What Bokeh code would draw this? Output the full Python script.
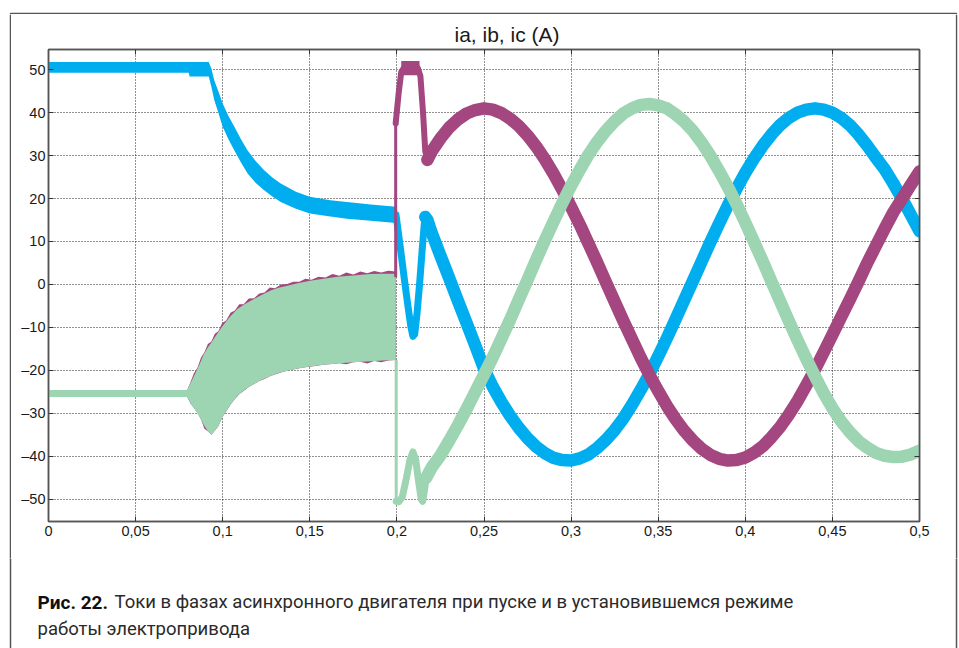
from bokeh.plotting import figure
from bokeh.layouts import column, row
from bokeh.models import Range1d, FixedTicker, LinearAxis, Label
from bokeh.embed import file_html
from bokeh.resources import INLINE

BLUE = "#00AEEF"
PURPLE = "#A4467F"
GREEN = "#9DD4B1"
FRAME = "#555555"

# ---------------- data ----------------
x_ticks = [0.0, 0.05, 0.1, 0.15, 0.2, 0.25, 0.3, 0.35, 0.4, 0.45, 0.5]
x_labels = ["0", "0,05", "0,1", "0,15", "0,2", "0,25", "0,3", "0,35", "0,4", "0,45", "0,5"]
y_ticks = [-50, -40, -30, -20, -10, 0, 10, 20, 30, 40, 50]
y_labels = ["\u201350", "\u201340", "\u201330", "\u201320", "\u201310", "0", "10", "20", "30", "40", "50"]

# ia before switching (ripple band)
ta_pre = [0.0, 0.0805, 0.0810, 0.0920, 0.0935, 0.0952, 0.0975, 0.1000, 0.1033, 0.1067,
          0.1105, 0.1143, 0.1190, 0.1238, 0.1285, 0.1333, 0.1420, 0.1500, 0.1618, 0.1713,
          0.1850, 0.1995]
ia_pre_hi = [51.8, 51.8, 51.8, 51.8, 50.2, 47.5, 45.0, 42.1, 39.2, 36.7,
             33.8, 31.2, 28.7, 26.6, 24.9, 23.5, 21.6, 20.4, 19.6, 19.2,
             18.6, 18.1]
ia_pre_lo = [49.3, 49.3, 48.4, 48.4, 46.0, 42.9, 40.0, 36.7, 33.8, 31.2,
             28.4, 25.8, 23.6, 21.9, 20.5, 19.2, 17.6, 16.5, 15.8, 15.3,
             14.8, 14.3]

# ic before switching (noisy envelope)
tc_noise = [0.0, 0.0796, 0.0820, 0.0845, 0.0870, 0.0892, 0.0915, 0.0935, 0.0955, 0.0975,
            0.0997, 0.1040, 0.1084, 0.1130, 0.1179, 0.1225, 0.1275, 0.1320, 0.1371, 0.1430,
            0.1501, 0.1580, 0.1658, 0.1750, 0.1849, 0.1920, 0.1993]
ic_noise_hi = [-24.6, -24.6, -22.6, -20.5, -18.3, -16.2, -14.6, -13.5, -12.3, -11.1,
               -9.8, -7.6, -5.7, -4.5, -3.4, -2.4, -1.4, -0.8, -0.3, 0.3,
               0.85, 1.3, 1.8, 2.1, 2.45, 2.5, 2.5]
ic_noise_lo = [-26.2, -26.2, -28.0, -29.4, -31.0, -32.8, -34.2, -35.0, -34.0, -33.0,
               -31.0, -28.3, -25.9, -24.4, -23.2, -22.2, -21.3, -20.6, -20.1, -19.6,
               -19.1, -18.7, -18.4, -18.1, -17.9, -17.7, -17.6]

# ib before switching (noisy envelope, mostly hidden under ic)
tb_noise = [0.0, 0.0796, 0.0815, 0.0835, 0.0855, 0.0875, 0.0895, 0.0915, 0.0935, 0.0955,
            0.0975, 0.0997, 0.1020, 0.1045, 0.1070, 0.1095, 0.1120, 0.1150, 0.1180, 0.1210,
            0.1240, 0.1270, 0.1300, 0.1335, 0.1370, 0.1405, 0.1440, 0.1475, 0.1510, 0.1550,
            0.1590, 0.1630, 0.1670, 0.1710, 0.1750, 0.1790, 0.1830, 0.1870, 0.1910, 0.1950,
            0.1993]
ib_noise_hi = [-24.6, -24.6, -22.8, -20.7, -19.4, -17.1, -15.8, -13.9, -13.3, -11.5,
               -10.9, -9.0, -8.4, -6.6, -6.1, -4.6, -4.6, -3.3, -3.2, -2.1,
               -1.9, -0.7, -0.9, 0.0, 0.1, 0.65, 0.6, 1.35, 1.1, 1.8,
               1.6, 2.4, 2.0, 2.8, 2.3, 3.0, 2.6, 3.1, 2.8, 3.2,
               3.0]
ib_noise_lo = [-26.2, -26.2, -27.7, -28.8, -29.9, -31.4, -33.6, -34.2, -35.0, -34.0,
               -33.0, -31.0, -29.6, -28.0, -26.7, -25.6, -24.8, -23.9, -23.2, -22.5,
               -22.0, -21.4, -21.0, -20.5, -20.1, -19.8, -19.5, -19.3, -19.1, -18.85,
               -18.65, -18.5, -18.35, -18.6, -18.1, -18.0, -18.4, -17.85, -18.1, -17.7,
               -17.6]

# switching jumps
tb_jump = [0.1993, 0.1993]
ib_jump = [1.7, 37.5]
tc_jump = [0.1996, 0.1996]
ic_jump = [-17.6, -50.5]

# transients after switching
ta_tr = [0.1995, 0.2020, 0.2045, 0.2065, 0.2080, 0.2092, 0.2102, 0.2115, 0.2130, 0.2145, 0.2157, 0.2163]
ia_tr = [16.2, 8.5, 0.5, -5.5, -9.8, -12.1, -11.6, -7.0, 0.0, 8.0, 14.0, 15.7]
tb_tr = [0.1993, 0.2010, 0.2025, 0.2040, 0.2080, 0.2120, 0.2135, 0.2150, 0.2163, 0.2175]
ib_tr = [37.5, 44.5, 49.5, 50.4, 50.4, 50.4, 48.5, 40.0, 31.0, 29.0]
tb_plateau = [0.2025, 0.2130]
ib_plateau_lo = [48.7, 48.7]
ib_plateau_hi = [52.0, 52.0]
tc_tr = [0.1996, 0.2010, 0.2031, 0.2055, 0.2075, 0.2092, 0.2108, 0.2125, 0.2140, 0.2148, 0.2158, 0.2168]
ic_tr = [-50.5, -50.6, -49.5, -45.0, -40.8, -39.0, -40.8, -46.0, -50.0, -50.5, -48.0, -45.0]

# steady sinusoidal part
t_steady = [0.255, 0.260, 0.265, 0.270, 0.275, 0.280, 0.285, 0.290, 0.295, 0.300,
            0.305, 0.310, 0.315, 0.320, 0.325, 0.330, 0.335, 0.340, 0.345, 0.350,
            0.355, 0.360, 0.365, 0.370, 0.375, 0.380, 0.385, 0.390, 0.395, 0.400,
            0.405, 0.410, 0.415, 0.420, 0.425, 0.430, 0.435, 0.440, 0.445, 0.450,
            0.455, 0.460, 0.465, 0.470, 0.475, 0.480, 0.485, 0.490, 0.495, 0.500]
ta_st = [0.2163, 0.2175, 0.2200, 0.2250, 0.2300, 0.2350, 0.2400, 0.2450, 0.2500] + t_steady
ia_st = [15.7, 15.0, 12.0, 6.7, 1.5, -3.8, -9.0, -14.2, -19.6,
         -23.8, -27.4, -30.6, -33.4, -35.8, -37.8, -39.3, -40.4, -40.9, -41.0,
         -40.5, -39.6, -38.1, -36.2, -33.9, -31.2, -28.0, -24.5, -20.8, -16.7,
         -12.5, -8.1, -3.6, 0.9, 5.4, 9.9, 14.2, 18.4, 22.3, 26.0,
         29.3, 32.3, 34.9, 37.1, 38.8, 40.0, 40.7, 41.0, 40.7, 40.0,
         38.8, 37.1, 34.9, 32.3, 29.5, 26.8, 23.5, 20.0, 16.2, 12.4]
tb_st = [0.2175, 0.2200, 0.2250, 0.2300, 0.2350, 0.2400, 0.2450, 0.2500] + t_steady
ib_st = [29.0, 31.0, 34.0, 36.5, 38.4, 39.8, 40.6, 41.0,
         40.7, 39.9, 38.6, 36.9, 34.7, 32.1, 29.1, 25.7, 22.0, 18.0,
         13.9, 9.5, 5.1, 0.5, -4.0, -8.5, -12.8, -17.1, -21.1, -24.8,
         -28.3, -31.4, -34.1, -36.4, -38.3, -39.7, -40.6, -41.0, -40.9, -40.3,
         -39.2, -37.7, -35.6, -33.2, -30.3, -27.1, -23.5, -19.8, -15.8, -11.7,
         -7.6, -3.5, 0.7, 5.0, 9.0, 13.0, 16.8, 20.0, 23.2, 26.3]
tc_st = [0.2168, 0.2200, 0.2250, 0.2300, 0.2350, 0.2400, 0.2450, 0.2500] + t_steady
ic_st = [-45.0, -42.6, -39.8, -36.4, -32.8, -29.0, -25.0, -21.0,
         -17.0, -12.6, -8.2, -3.5, 1.1, 5.8, 10.3, 14.7, 19.0, 23.0,
         26.7, 30.2, 33.2, 35.8, 38.0, 39.8, 41.0, 41.8, 42.0, 41.7,
         41.0, 39.6, 37.9, 35.7, 33.0, 29.9, 26.4, 22.7, 18.7, 14.4,
         9.9, 5.4, 0.7, -3.9, -8.5, -13.0, -17.3, -21.4, -25.3, -28.8,
         -31.9, -34.4, -36.5, -38.0, -39.2, -39.9, -40.2, -40.1, -39.6, -38.7]

title_text = "ia, ib, ic (A)"
caption_bold = "Рис. 22."
caption_line1 = "Токи в фазах асинхронного двигателя при пуске и в установившемся режиме"
caption_line2 = "работы электропривода"


def strip(w, h):
    s = figure(width=w, height=h, x_range=Range1d(0, w), y_range=Range1d(0, h),
               output_backend="svg", toolbar_location=None, title=None,
               x_axis_location=None, y_axis_location=None,
               min_border=0, min_border_left=0, min_border_right=0,
               min_border_top=0, min_border_bottom=0,
               background_fill_color="white", border_fill_color="white")
    s.outline_line_color = None
    s.outline_line_alpha = 0
    s.grid.visible = False
    s.frame_align = False
    return s


# ---------------- main figure ----------------
p = figure(frame_width=871, frame_height=472,
           x_range=Range1d(0, 0.5), y_range=Range1d(-55.2, 54.7),
           output_backend="svg", toolbar_location=None,
           min_border_left=37, min_border_right=36, min_border_top=35, min_border_bottom=39,
           background_fill_color="white", border_fill_color="white")
p.frame_align = False
p.outline_line_color = FRAME
p.outline_line_width = 1.5

p.title.text = title_text
p.title.text_font = "Liberation Sans"
p.title.text_font_size = "21px"
p.title.text_font_style = "normal"
p.title.text_color = "#1a1a1a"
p.title.align = "left"
p.title.offset = 406
p.title.standoff = 7

xt = FixedTicker(ticks=x_ticks)
yt = FixedTicker(ticks=y_ticks)

for ax in [p.xaxis[0], p.yaxis[0]]:
    ax.axis_line_color = FRAME
    ax.axis_line_width = 1.5
    ax.major_tick_in = 5
    ax.major_tick_out = 0
    ax.minor_tick_line_color = None
    ax.major_tick_line_color = "#333333"
    ax.major_label_text_font = "Liberation Sans"
    ax.major_label_text_font_size = "14.5px"
    ax.major_label_text_color = "#1a1a1a"

p.xaxis[0].ticker = xt
p.xaxis[0].major_label_overrides = dict(zip(x_ticks, x_labels))
p.xaxis[0].major_label_standoff = 4
p.yaxis[0].ticker = yt
p.yaxis[0].major_label_overrides = dict(zip(y_ticks, y_labels))
p.yaxis[0].major_label_standoff = 3

top = LinearAxis(ticker=xt, major_tick_in=5, major_tick_out=0, minor_tick_line_color=None,
                 axis_line_color=FRAME, axis_line_width=1.5, major_tick_line_color="#333333",
                 major_label_text_color=None, major_label_text_font_size="0px",
                 major_label_standoff=0)
right = LinearAxis(ticker=yt, major_tick_in=5, major_tick_out=0, minor_tick_line_color=None,
                   axis_line_color=FRAME, axis_line_width=1.5, major_tick_line_color="#333333",
                   major_label_text_color=None, major_label_text_font_size="0px",
                   major_label_standoff=0)
p.add_layout(top, "above")
p.add_layout(right, "right")

p.xgrid.ticker = xt
p.ygrid.ticker = yt
for g in [p.xgrid[0], p.ygrid[0]]:
    g.grid_line_color = "#222222"
    g.grid_line_dash = "1 2"
    g.grid_line_width = 1

p.varea(x=ta_pre, y1=ia_pre_lo, y2=ia_pre_hi, fill_color=BLUE)
p.varea(x=tb_noise, y1=ib_noise_lo, y2=ib_noise_hi, fill_color=PURPLE)
p.varea(x=tc_noise, y1=ic_noise_lo, y2=ic_noise_hi, fill_color=GREEN)

p.line(ta_tr, ia_tr, line_color=BLUE, line_width=7, line_join="round", line_cap="round")
p.line(ta_st, ia_st, line_color=BLUE, line_width=12.5, line_join="round", line_cap="round")

p.line(tb_jump, ib_jump, line_color=PURPLE, line_width=3)
p.line(tb_tr, ib_tr, line_color=PURPLE, line_width=6, line_join="round", line_cap="round")
p.varea(x=tb_plateau, y1=ib_plateau_lo, y2=ib_plateau_hi, fill_color=PURPLE)
p.line(tb_st, ib_st, line_color=PURPLE, line_width=12.5, line_join="round", line_cap="round")

p.line(tc_jump, ic_jump, line_color=GREEN, line_width=3)
p.line(tc_tr, ic_tr, line_color=GREEN, line_width=7, line_join="round", line_cap="round")
p.line(tc_st, ic_st, line_color=GREEN, line_width=12.5, line_join="round", line_cap="round")

# ---------------- outer frame strips (y measured upward inside each strip) ----------------
top_strip = strip(959, 14)
top_strip.line([10, 10, 956, 956], [0, 1, 1, 0], line_color=FRAME, line_width=1.5)
left_strip = strip(11, 546)
left_strip.line([10, 10], [0, 546], line_color=FRAME, line_width=1.5)
right_strip = strip(4, 546)
right_strip.line([1, 1], [0, 546], line_color=FRAME, line_width=1.5)

# ---------------- caption strip (overlaps the row above by 2 px) ----------------
cap = strip(959, 90)
cap.margin = (-2, 0, 0, 0)
cap.line([10, 10], [0, 90], line_color=FRAME, line_width=1.5)
cap.line([956, 956], [0, 90], line_color=FRAME, line_width=1.5)
cap.add_layout(Label(x=37, y=46.3, text=caption_bold,
                     text_font="Roboto", text_font_style="bold",
                     text_font_size="19px", text_color="#111111", text_baseline="alphabetic"))
cap.add_layout(Label(x=114, y=46.3, text=caption_line1,
                     text_font="Roboto", text_font_size="18.5px",
                     text_color="#2a2a2a", text_baseline="alphabetic"))
cap.add_layout(Label(x=37, y=19.5, text=caption_line2,
                     text_font="Roboto", text_font_size="18.5px",
                     text_color="#2a2a2a", text_baseline="alphabetic"))

layout = column(top_strip, row(left_strip, p, right_strip, spacing=0), cap, spacing=0)
open("out.html", "w").write(file_html(layout, INLINE))
